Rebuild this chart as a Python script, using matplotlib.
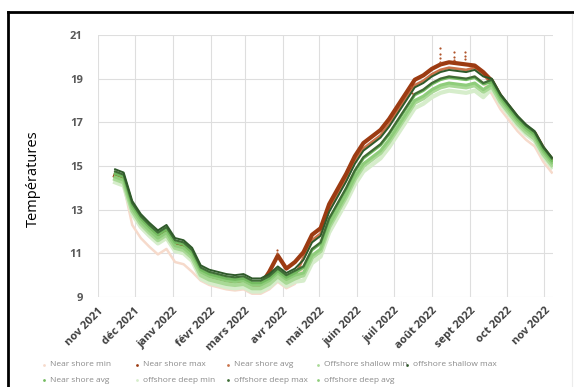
import numpy as np
import pandas as pd
import matplotlib.pyplot as plt
import matplotlib.dates as mdates
from matplotlib.lines import Line2D

plt.rcParams['font.family'] = ['Open Sans', 'DejaVu Sans']

# Relevés hebdomadaires (à partir du 15 nov 2021)
dates = pd.date_range('2021-11-15', periods=52, freq='7D')

near_min = [14.35, 14.10, 12.30, 11.70, 11.30, 10.95, 11.20, 10.60, 10.50, 10.15,
            9.75, 9.55, 9.45, 9.35, 9.30, 9.35, 9.15, 9.15, 9.35, 9.70,
            9.40, 9.60, 10.40, 11.20, 11.50, 12.60, 13.30, 14.00, 14.80, 15.40,
            15.70, 16.00, 16.50, 17.10, 17.70, 18.30, 18.50, 18.80, 19.00, 19.10,
            19.05, 19.00, 19.10, 18.80, 18.30, 17.60, 17.10, 16.60, 16.20, 15.90,
            15.20, 14.70]
near_max = [14.55, 14.40, 13.10, 12.50, 12.10, 11.75, 12.00, 11.40, 11.30, 10.95,
            10.15, 9.95, 9.85, 9.75, 9.70, 9.75, 9.55, 9.55, 10.15, 10.90,
            10.30, 10.60, 11.05, 11.85, 12.15, 13.25, 13.95, 14.65, 15.45, 16.05,
            16.35, 16.65, 17.15, 17.75, 18.35, 18.95, 19.15, 19.45, 19.65, 19.75,
            19.70, 19.65, 19.60, 19.30, 18.90, 18.20, 17.70, 17.20, 16.80, 16.50,
            15.80, 15.30]
near_avg = [14.50, 14.35, 13.05, 12.45, 12.05, 11.70, 11.95, 11.35, 11.25, 10.90,
            10.10, 9.90, 9.80, 9.70, 9.65, 9.70, 9.50, 9.50, 9.70, 10.05,
            9.75, 9.95, 10.80, 11.60, 11.90, 13.00, 13.70, 14.40, 15.20, 15.80,
            16.10, 16.40, 16.90, 17.50, 18.10, 18.70, 18.90, 19.20, 19.40, 19.50,
            19.45, 19.40, 19.50, 19.20, 18.75, 18.05, 17.55, 17.05, 16.65, 16.35,
            15.65, 15.15]
shallow_min = [14.40, 14.25, 12.95, 12.35, 11.95, 11.60, 11.85, 11.25, 11.15, 10.80,
               10.00, 9.80, 9.70, 9.60, 9.55, 9.60, 9.40, 9.40, 9.60, 9.95,
               9.65, 9.85, 10.00, 10.80, 11.10, 12.20, 12.90, 13.60, 14.40, 15.00,
               15.30, 15.60, 16.10, 16.70, 17.30, 17.90, 18.10, 18.40, 18.60, 18.70,
               18.65, 18.60, 18.70, 18.40, 18.65, 17.95, 17.45, 16.95, 16.55, 16.25,
               15.55, 15.05]
shallow_max = [14.85, 14.70, 13.40, 12.80, 12.40, 12.05, 12.30, 11.70, 11.60, 11.25,
               10.45, 10.25, 10.15, 10.05, 10.00, 10.05, 9.85, 9.85, 10.05, 10.40,
               10.10, 10.30, 10.70, 11.50, 11.80, 12.90, 13.60, 14.30, 15.10, 15.70,
               16.00, 16.30, 16.80, 17.40, 18.00, 18.60, 18.80, 19.10, 19.30, 19.40,
               19.35, 19.30, 19.40, 19.10, 19.00, 18.30, 17.80, 17.30, 16.90, 16.60,
               15.90, 15.40]
shallow_avg = [14.65, 14.50, 13.20, 12.60, 12.20, 11.85, 12.10, 11.50, 11.40, 11.05,
               10.25, 10.05, 9.95, 9.85, 9.80, 9.85, 9.65, 9.65, 9.85, 10.20,
               9.90, 10.10, 10.35, 11.15, 11.45, 12.55, 13.25, 13.95, 14.75, 15.35,
               15.65, 15.95, 16.45, 17.05, 17.65, 18.25, 18.45, 18.75, 18.95, 19.05,
               19.00, 18.95, 19.05, 18.75, 18.85, 18.15, 17.65, 17.15, 16.75, 16.45,
               15.75, 15.25]
deep_min = [14.25, 14.10, 12.80, 12.20, 11.80, 11.45, 11.70, 11.10, 11.00, 10.65,
            9.85, 9.65, 9.55, 9.45, 9.40, 9.45, 9.25, 9.25, 9.45, 9.80,
            9.50, 9.70, 9.75, 10.55, 10.85, 11.95, 12.65, 13.35, 14.15, 14.75,
            15.05, 15.35, 15.85, 16.45, 17.05, 17.65, 17.85, 18.15, 18.35, 18.45,
            18.40, 18.35, 18.45, 18.15, 18.55, 17.85, 17.35, 16.85, 16.45, 16.15,
            15.45, 14.95]
deep_max = [14.75, 14.60, 13.30, 12.70, 12.30, 11.95, 12.20, 11.60, 11.50, 11.15,
            10.35, 10.15, 10.05, 9.95, 9.90, 9.95, 9.75, 9.75, 9.95, 10.30,
            10.00, 10.20, 10.40, 11.20, 11.50, 12.60, 13.30, 14.00, 14.80, 15.40,
            15.70, 16.00, 16.50, 17.10, 17.70, 18.30, 18.50, 18.80, 19.00, 19.10,
            19.05, 19.00, 19.10, 18.80, 18.95, 18.25, 17.75, 17.25, 16.85, 16.55,
            15.85, 15.35]
deep_avg = [14.50, 14.35, 13.05, 12.45, 12.05, 11.70, 11.95, 11.35, 11.25, 10.90,
            10.15, 9.95, 9.85, 9.75, 9.70, 9.75, 9.55, 9.55, 9.75, 10.10,
            9.80, 10.00, 10.10, 10.90, 11.20, 12.30, 13.00, 13.70, 14.50, 15.10,
            15.40, 15.70, 16.20, 16.80, 17.40, 18.00, 18.20, 18.50, 18.70, 18.80,
            18.75, 18.70, 18.80, 18.50, 18.75, 18.05, 17.55, 17.05, 16.65, 16.35,
            15.65, 15.15]

# Pics isolés du capteur côtier
pic_dates = pd.to_datetime(['2022-07-15', '2022-07-16', '2022-08-08', '2022-08-08',
                            '2022-08-08', '2022-08-08', '2022-08-19', '2022-08-19',
                            '2022-08-19', '2022-08-28', '2022-08-28', '2022-08-28',
                            '2022-03-27', '2022-03-27'])
pic_vals = [18.6, 18.35, 20.4, 20.15, 19.95, 19.75, 20.2, 20.0, 19.85, 20.2, 20.05,
            19.9, 11.15, 11.0]

mois = ['nov 2021', 'déc 2021', 'janv 2022', 'févr 2022', 'mars 2022', 'avr 2022',
        'mai 2022', 'juin 2022', 'juil 2022', 'août 2022', 'sept 2022', 'oct 2022',
        'nov 2022']

# nom, valeurs, couleur, zorder, épaisseur
series = [
    ('Near shore min', near_min, '#f6dacb', 1, 1.8),
    ('Near shore max', near_max, '#9c3b12', 1.8, 3.0),
    ('Near shore avg', near_avg, '#c9734a', 1.7, 2.0),
    ('Offshore shallow min', shallow_min, '#a9d996', 2, 3.0),
    ('offshore shallow max', shallow_max, '#2f5a2a', 6, 1.4),
    ('Near shore avg', shallow_avg, '#73bb60', 3, 2.0),
    ('offshore deep min', deep_min, '#d6edcb', 1.5, 3.0),
    ('offshore deep max', deep_max, '#3f6e36', 5, 1.6),
    ('offshore deep avg', deep_avg, '#8fcd7b', 2.5, 2.2),
]

fig = plt.figure(figsize=(5.74, 3.87), dpi=100)
ax = fig.add_axes([0.1707, 0.2326, 0.7927, 0.677])

for nom, vals, col, z, lw in series:
    ax.plot(dates, vals, color=col, lw=lw, zorder=z, solid_joinstyle='round')

ax.scatter(pic_dates, pic_vals, s=2.5, color='#b0532a', zorder=4, lw=0)

ax.set_ylim(9, 21)
ax.set_yticks(range(9, 22, 2))
ax.set_xlim(pd.Timestamp('2021-11-01'), pd.Timestamp('2022-11-08'))
ticks = pd.date_range('2021-11-01', periods=13, freq='MS')
ax.set_xticks(ticks)
ax.set_xticklabels(mois, rotation=45, ha='right', rotation_mode='anchor',
                   fontsize=8, fontweight='bold', color='#404040')
for lab in ax.get_yticklabels():
    lab.set_fontsize(8)
    lab.set_fontweight('bold')
    lab.set_color('#595959')
ax.tick_params(length=0, pad=6)
ax.tick_params(axis='y', pad=11)
ax.grid(True, color='#dedede', lw=0.8)
ax.set_axisbelow(True)
for s in ax.spines.values():
    s.set_visible(False)
ax.set_ylabel('Températures', fontsize=10.5, color='black')
ax.yaxis.set_label_coords(-0.125, 0.45)

# Cadre
fig.add_artist(Line2D([8 / 574, 8 / 574], [0, 1 - 12 / 387], color='black', lw=2))
fig.add_artist(Line2D([8 / 574, 1], [1 - 12 / 387, 1 - 12 / 387], color='black', lw=2))
fig.add_artist(Line2D([572 / 574, 572 / 574], [0, 1 - 14 / 387], color='#ececec', lw=0.8))

# Légende en deux lignes sous le graphique
leg_x = [44, 137, 228, 318, 407, 44, 137, 228, 318]
leg_y = [365, 365, 365, 365, 365, 380, 380, 380, 380]
for i, (px, py) in enumerate(zip(leg_x, leg_y)):
    nom, _, col = series[i][:3]
    fig.add_artist(Line2D([px / 574], [1 - py / 387], ls='none', marker='o', ms=2,
                          color=col, mec='none'))
    fig.text((px + 6) / 574, 1 - py / 387, nom, fontsize=6, color='#8a8a8a',
             va='center', ha='left')

fig.savefig('out.png', dpi=100)
